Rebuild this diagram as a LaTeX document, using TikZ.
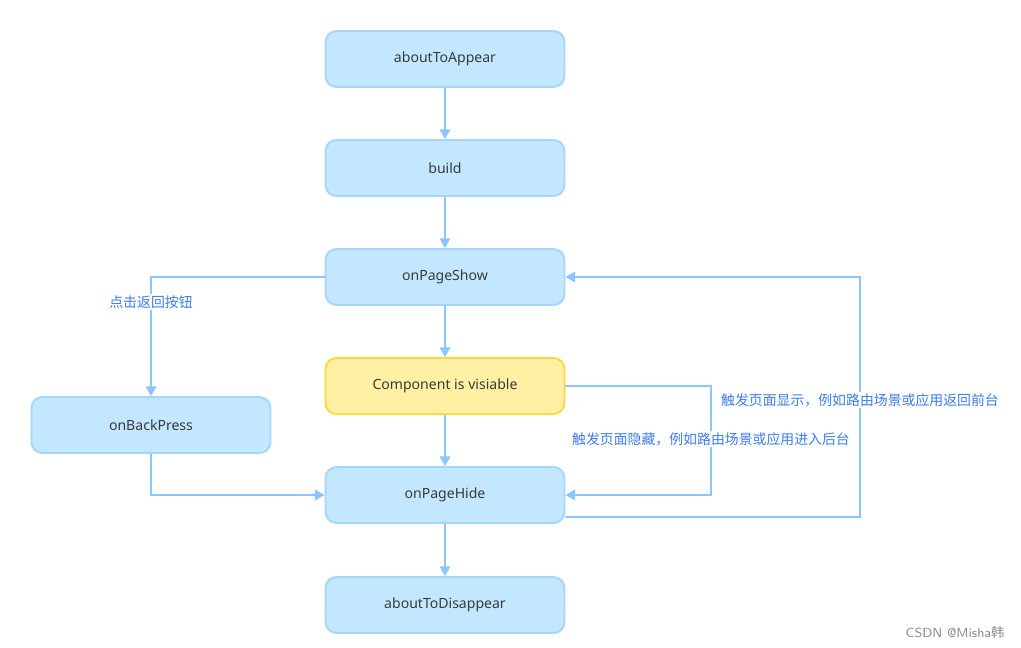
\documentclass[tikz,border=0pt]{standalone}
\usepackage{fontspec}
\setmainfont{Noto Sans}
\newfontfamily\cjk{Noto Sans CJK SC}
\usetikzlibrary{arrows.meta}
\definecolor{boxblue}{HTML}{C2E7FF}
\definecolor{boxline}{HTML}{A6D6FF}
\definecolor{yelfill}{HTML}{FFF0A3}
\definecolor{yelline}{HTML}{FFD644}
\definecolor{flowline}{HTML}{8CC6FF}
\definecolor{labelblue}{HTML}{3C7DF0}
\definecolor{boxtext}{HTML}{3A3A3A}

\tikzset{
    stage/.style={draw=boxline, fill=boxblue, line width=1.1pt, rounded corners=0.22cm,
        minimum width=4.78cm, minimum height=1.12cm, text=boxtext, font=\fontsize{8}{10}\selectfont},
    visible/.style={stage, draw=yelline, fill=yelfill},
    flow/.style={draw=flowline, line width=1.1pt, -{Triangle[length=5.5pt, width=6pt]}},
    note/.style={fill=white, text=labelblue, inner sep=1pt, font=\cjk\fontsize{7.9}{9}\selectfont}
}

\begin{document}
\begin{tikzpicture}[x=0.02cm, y=-0.02cm]

\useasboundingbox (0, 0) rectangle (1021, 647);

% lifecycle boxes
\node [stage] (appear) at (445, 59) {aboutToAppear};
\node [stage] (build) at (445, 168) {build};
\node [stage] (show) at (445, 277) {onPageShow};
\node [visible] (vis) at (445, 386) {Component is visiable};
\node [stage] (hide) at (445, 495) {onPageHide};
\node [stage] (disappear) at (445, 605) {aboutToDisappear};
\node [stage] (back) at (151, 425) {onBackPress};

% straight flow
\draw [flow] (appear) -- (build);
\draw [flow] (build) -- (show);
\draw [flow] (show) -- (vis);
\draw [flow] (vis) -- (hide);
\draw [flow] (hide) -- (disappear);

% back button branch
\draw [flow] (show.west) -| (back.north);
\node [note] (backnote) at (151, 302) {点击返回按钮};
\draw [flow] (back.south) |- (hide.west);

% hide / show loops
\coordinate (hidecorner) at (711, 386);
\draw [flow] (vis.east) -- (hidecorner) |- (hide.east);
\node [note] (hidenote) at (711, 439) {触发页面隐藏，例如路由场景或应用进入后台};

\coordinate (hideout) at ([yshift=-0.44cm] hide.east);
\coordinate (showcorner) at (860, 517);
\draw [flow] (hideout) -- (showcorner) |- (show.east);
\node [note] (shownote) at (860, 400) {触发页面显示，例如路由场景或应用返回前台};

% watermark
\node [text=black!45, font=\sffamily\fontsize{7.5}{9}\selectfont] (mark) at (955, 632) {CSDN @Misha{\cjk 韩}};
\end{tikzpicture}
\end{document}
